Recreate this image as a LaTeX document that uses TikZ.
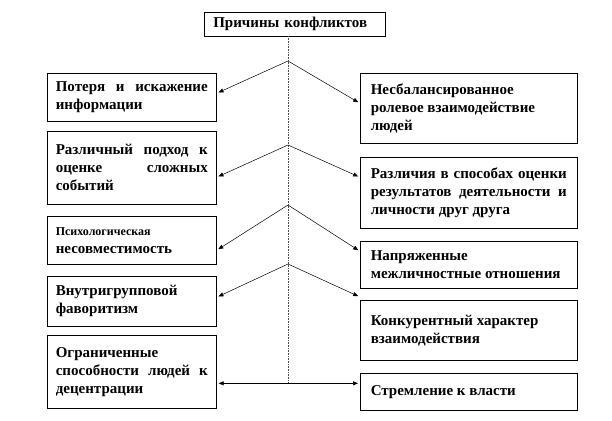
\documentclass[tikz,border=0pt]{standalone}
\usepackage{fontspec}
\setmainfont{Liberation Serif}
\usetikzlibrary{arrows.meta}
\hyphenpenalty=10000
\exhyphenpenalty=10000
\tolerance=10000
\hbadness=10000
\hfuzz=20pt
\begin{document}
\begin{tikzpicture}[x=1pt,y=1pt,
  boxfont/.style={font=\bfseries\fontsize{15}{18}\selectfont},
  bx/.style={draw=black, line width=0.6pt, anchor=north west, inner ysep=0pt, boxfont},
  lbox/.style={bx, inner xsep=8.5pt, text width=152pt, minimum width=169pt, align=justify},
  rbox/.style={bx, inner xsep=10pt, text width=196pt, minimum width=217pt, align=justify},
  tbox/.style={bx, inner xsep=9pt, text width=163pt, minimum width=181pt, minimum height=24pt, align=left},
  trunk/.style={draw=black!70, line width=0.6pt, densely dotted},
  conn/.style={draw=black, line width=0.5pt, -{Triangle[length=5pt,width=4pt]}, shorten >=2pt},
  hconn/.style={draw=black, line width=0.6pt, {Triangle[length=5pt,width=4pt]}-{Triangle[length=5pt,width=4pt]}, shorten <=2pt, shorten >=2pt}
]
\useasboundingbox[fill=white] (0,0) rectangle (612,-420);

\node[tbox] (T) at (204,-12) {Причины конфликтов};

\node[lbox, minimum height=48pt] (L1) at (47,-73) {Потеря и искажение\linebreak информации};
\node[lbox, minimum height=73pt] (L2) at (47,-131) {Различный подход к\linebreak оценке сложных\linebreak событий};
\node[lbox, minimum height=48pt] (L3) at (47,-216) {{\fontsize{12}{14}\selectfont Психологическая}\\несовместимость};
\node[lbox, minimum height=50pt] (L4) at (47,-276) {Внутригрупповой\\фаворитизм};
\node[lbox, minimum height=73pt] (L5) at (47,-335) {Ограниченные\\способности людей к\linebreak децентрации};

\node[rbox, minimum height=70pt] (R1) at (360,-73) {Несбалансированное\\ролевое взаимодействие\\людей};
\node[rbox, minimum height=71pt] (R2) at (360,-157) {Различия в способах оценки\linebreak результатов деятельности и\linebreak личности друг друга};
\node[rbox, minimum height=47pt] (R3) at (360,-241) {Напряженные\\межличностные отношения};
\node[rbox, minimum height=60pt] (R4) at (360,-300) {Конкурентный характер\\взаимодействия};
\node[rbox, minimum height=37pt] (R5) at (360,-373) {Стремление к власти};

\coordinate (top) at (288,-36);
\coordinate (A1) at (288,-61);
\coordinate (A2) at (288,-145);
\coordinate (A3) at (288,-205);
\coordinate (A4) at (288,-264);
\coordinate (bot) at (288,-383);

\draw[trunk] (top) -- (bot);

\draw[conn] (A1) -- ([yshift=4pt]L1.east);
\draw[conn] (A1) -- ([yshift=5pt]R1.west);
\draw[conn] (A2) -- ([yshift=-9.5pt]L2.east);
\draw[conn] (A2) -- ([yshift=15.5pt]R2.west);
\draw[conn] (A3) -- ([yshift=-10pt]L3.east);
\draw[conn] (A3) -- ([yshift=13.5pt]R3.west);
\draw[conn] (A4) -- ([yshift=4pt]L4.east);
\draw[conn] (A4) -- ([yshift=3pt]R4.north west);

\draw[hconn] ([yshift=-11.5pt]L5.east) -- ([yshift=8.5pt]R5.west);
\end{tikzpicture}
\end{document}
